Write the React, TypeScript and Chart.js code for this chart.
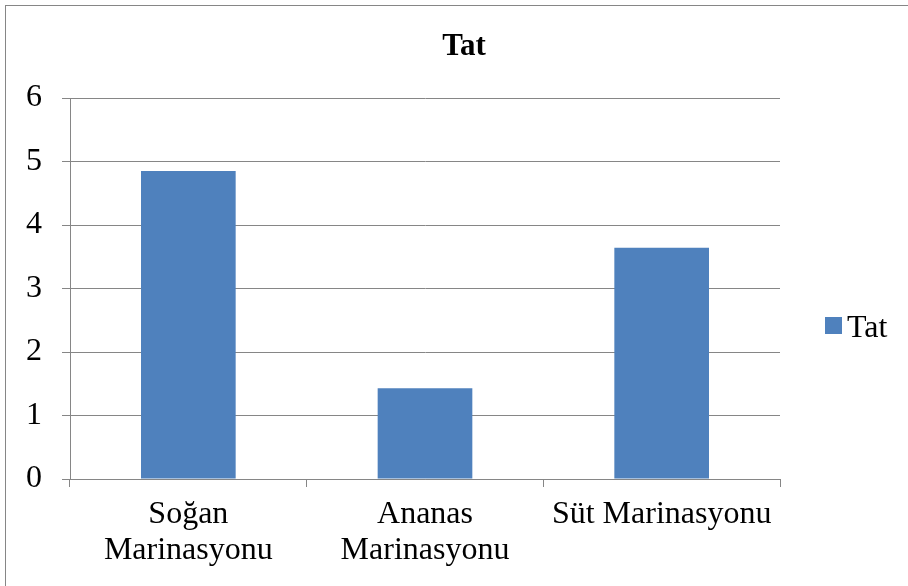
import React, { useEffect, useRef } from "react";
import { Chart, registerables } from "chart.js";

Chart.register(...registerables);

const chartTitle = "Tat";
const seriesName = "Tat";
const categories: (string | string[])[] = [
  ["Soğan", "Marinasyonu"],
  ["Ananas", "Marinasyonu"],
  "Süt Marinasyonu",
];
const tatValues = [4.85, 1.43, 3.64];
const yTicks = [0, 1, 2, 3, 4, 5, 6];

const BAR = "#4F81BD";
const GRID = "#868686";
const FONT = "'Liberation Serif', serif";

export default function App() {
  const ref = useRef<HTMLCanvasElement | null>(null);

  useEffect(() => {
    const canvas = ref.current;
    if (!canvas) return;
    let chart: any = null;
    let cancelled = false;

    const decor = {
      id: "decor",
      beforeDraw(c: any) {
        const ctx = c.ctx;
        ctx.save();
        ctx.fillStyle = "#ffffff";
        ctx.fillRect(0, 0, c.width, c.height);
        ctx.strokeStyle = GRID;
        ctx.lineWidth = 1;
        ctx.strokeRect(5.5, 5.5, 2000, 2000);
        ctx.restore();
      },
      afterDraw(c: any) {
        const ctx = c.ctx;
        ctx.save();
        ctx.fillStyle = "#000";
        ctx.textAlign = "center";
        ctx.textBaseline = "alphabetic";
        ctx.font = `bold 31px ${FONT}`;
        ctx.fillText(chartTitle, 464, 55);
        ctx.fillStyle = BAR;
        ctx.fillRect(825, 317, 17, 17);
        ctx.fillStyle = "#000";
        ctx.textAlign = "left";
        ctx.font = `32px ${FONT}`;
        ctx.fillText(seriesName, 847, 337);
        ctx.restore();
      },
    };

    const build = () => {
      if (cancelled) return;
      chart = new Chart(canvas, {
        type: "bar",
        data: {
          labels: categories,
          datasets: [
            {
              label: seriesName,
              data: tatValues,
              backgroundColor: BAR,
              borderWidth: 0,
              barPercentage: 0.4,
              categoryPercentage: 1,
            },
          ],
        },
        options: {
          responsive: false,
          animation: false,
          devicePixelRatio: 1,
          layout: { padding: { top: 98, right: 128, bottom: 7, left: 0 } },
          plugins: {
            legend: { display: false },
            title: { display: false },
            tooltip: { enabled: false },
          },
          scales: {
            x: {
              offset: true,
              grid: {
                offset: true,
                drawOnChartArea: false,
                drawTicks: true,
                tickLength: 8,
                color: GRID,
              },
              border: { display: true, color: GRID, width: 1 },
              ticks: {
                color: "#000",
                font: { family: FONT, size: 32, lineHeight: 1.125 },
                padding: 10,
                maxRotation: 0,
                autoSkip: false,
              },
              afterFit(scale: any) {
                scale.height = 100;
              },
            },
            y: {
              min: 0,
              max: 6,
              afterBuildTicks(scale: any) {
                scale.ticks = yTicks.map((v) => ({ value: v }));
              },
              grid: {
                color: GRID,
                tickLength: 8,
                drawTicks: true,
              },
              border: { display: true, color: GRID, width: 1 },
              ticks: {
                color: "#000",
                font: { family: FONT, size: 32 },
                padding: 20,
              },
              afterFit(scale: any) {
                scale.width = 70;
              },
            },
          },
        },
        plugins: [decor],
      });
    };

    const fonts: any = (document as any).fonts;
    if (fonts && fonts.load) {
      Promise.all([
        fonts.load(`32px "Liberation Serif"`, "Soğan Süt 0123456"),
        fonts.load(`bold 31px "Liberation Serif"`, "Tat"),
      ])
        .catch(() => null)
        .then(build);
    } else {
      build();
    }

    return () => {
      cancelled = true;
      if (chart) chart.destroy();
    };
  }, []);

  return (
    <div style={{ position: "absolute", left: 0, top: 0, width: 908, height: 586, background: "#fff" }}>
      <canvas ref={ref} width={908} height={586} style={{ width: 908, height: 586, display: "block" }} />
    </div>
  );
}
